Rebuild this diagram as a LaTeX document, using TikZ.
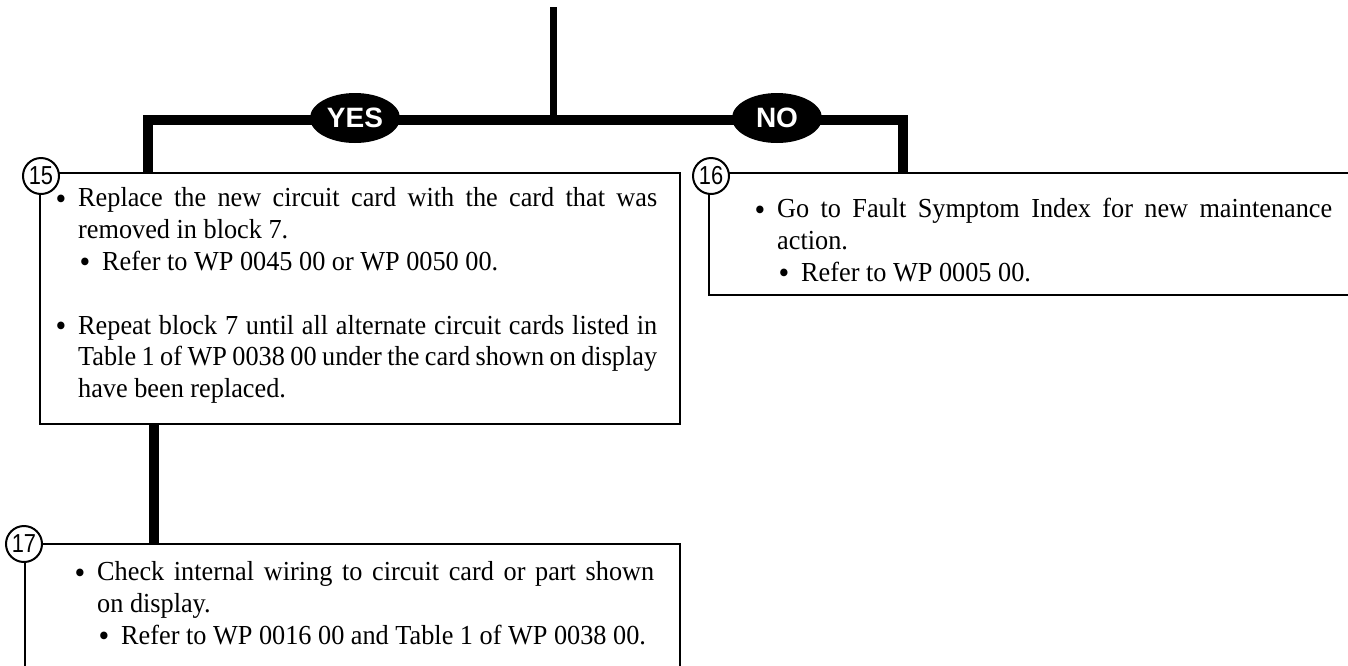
\documentclass[tikz,border=0pt]{standalone}
\usepackage{fontspec}
\setmainfont[FakeStretch=0.955]{Liberation Serif}
\newfontfamily\tagfont[FakeStretch=0.84]{Liberation Sans}
\newfontfamily\answerfont{Liberation Sans}
\usetikzlibrary{shapes.geometric}
\setlength{\parindent}{0pt}

\newcommand{\dotmark}{\raisebox{-2.5pt}{\fontsize{32}{32}\selectfont\textbullet}}
\newcommand{\mainitem}[1]{\par\leftskip=0pt\leavevmode\llap{\dotmark\hspace{12pt}}\strut#1}
\newcommand{\refitem}[1]{\par\leftskip=24pt\leavevmode\llap{\dotmark\hspace{12pt}}\strut#1}

\begin{document}
\begin{tikzpicture}[
  x=1pt,
  y=-1pt,
  bar/.style={line width=10pt},
  trunk/.style={line width=7pt},
  block/.style={draw, line width=2pt, inner sep=0pt, anchor=north west},
  blocktext/.style={inner sep=0pt, anchor=north west, align=justify,
                    font=\fontsize{27.5}{31.7}\selectfont},
  answer/.style={ellipse, fill=black, text=white, inner sep=0pt,
                 minimum width=90pt, minimum height=50pt,
                 font=\answerfont\bfseries\fontsize{28}{28}\selectfont},
  tag/.style={circle, draw, fill=white, line width=2pt, inner sep=0pt,
              minimum size=36pt, font=\tagfont\fontsize{26}{26}\selectfont}
]
  \useasboundingbox (0,0) rectangle (1348,665);

  % ---- blocks 15, 16 and 17 ---------------------------------------------
  \node[block, minimum width=640pt, minimum height=251pt] (b15) at (39,172) {};
  \node[block, minimum width=660pt, minimum height=122pt] (b16) at (708,172) {};
  \node[block, minimum width=655pt, minimum height=140pt] (b17) at (24,543) {};

  \node[blocktext, text width=579pt] (t15) at (78,175) {%
    \mainitem{Replace the new circuit card with the card that was\linebreak
      removed in block 7.}
    \refitem{Refer to WP 0045 00 or WP 0050 00.}
    \par\vspace{32pt}
    \mainitem{Repeat block 7 until all alternate circuit cards listed in\linebreak
      Table 1 of WP 0038 00 under the card shown on display\linebreak
      have been replaced.}\par};

  \node[blocktext, text width=555pt] (t16) at (777,186) {%
    \mainitem{Go to Fault Symptom Index for new maintenance\linebreak action.}
    \refitem{Refer to WP 0005 00.}\par};

  \node[blocktext, text width=557pt] (t17) at (97,549) {%
    \mainitem{Check internal wiring to circuit card or part shown\linebreak
      on display.}
    \refitem{Refer to WP 0016 00 and Table 1 of WP 0038 00.}\par};

  % ---- decision lines ---------------------------------------------------
  \coordinate (top) at (553,7);
  \coordinate (split) at (553,120);
  \coordinate (yesdrop) at (148,120);
  \coordinate (nodrop) at (903,120);
  \coordinate (link) at (154,0);

  \draw[trunk] (top) -- (split);
  \draw[bar] (b15.north -| yesdrop) -- (yesdrop) -- (nodrop) -- (b16.north -| nodrop);
  \draw[bar] (b15.south -| link) -- (b17.north -| link);

  \node[answer] (yes) at (355,118) {YES};
  \node[answer] (no) at (777,118) {NO};

  % ---- block numbers ----------------------------------------------------
  \node[tag] (n15) at (41,176) {15};
  \node[tag] (n16) at (711,176) {16};
  \node[tag] (n17) at (24,544) {17};
\end{tikzpicture}
\end{document}
